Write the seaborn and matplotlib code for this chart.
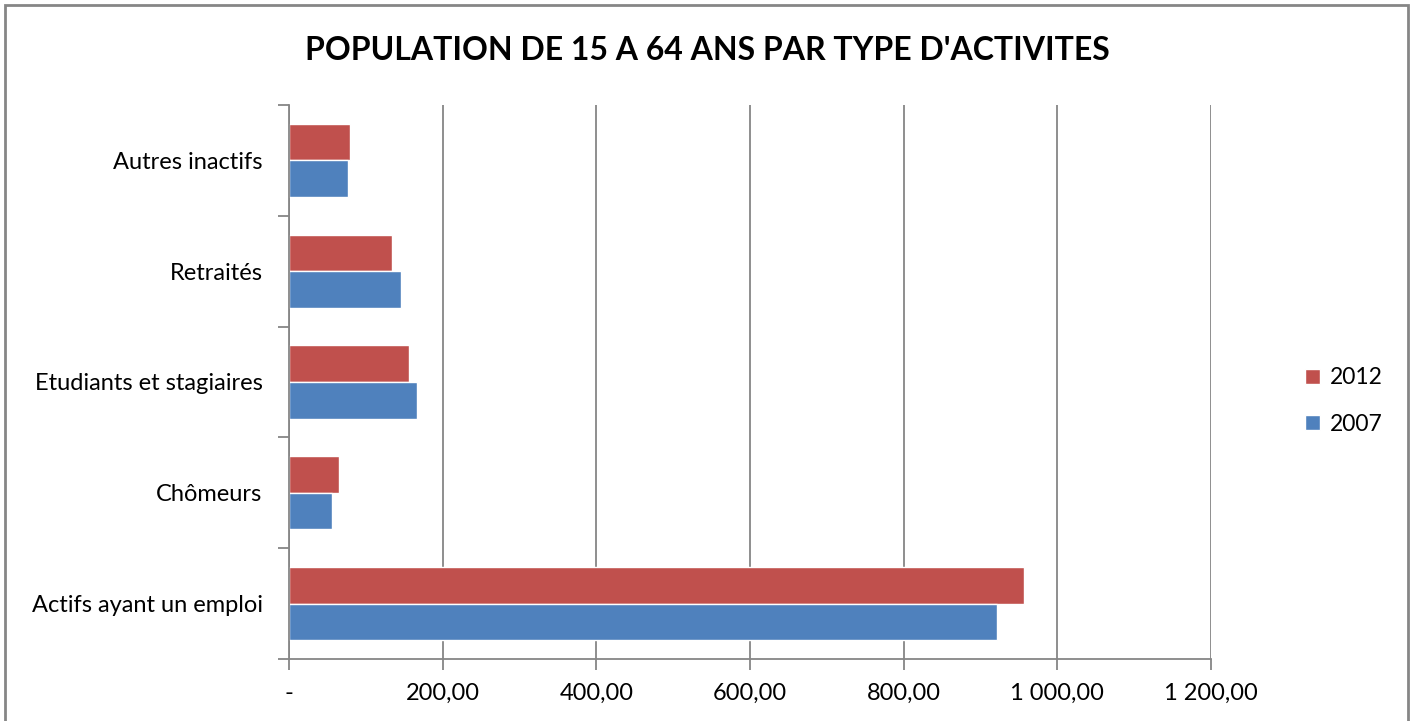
import pandas as pd
import matplotlib.pyplot as plt
import matplotlib.ticker as mticker
from matplotlib.patches import Rectangle, Patch
import seaborn as sns

categories = ["Autres inactifs", "Retraités", "Etudiants et stagiaires", "Chômeurs", "Actifs ayant un emploi"]
vals_2012 = [80, 134, 156, 65, 956]
vals_2007 = [77, 146, 166, 56, 921]
years = ["2012", "2007"]
colors = {"2012": "#C0504D", "2007": "#4F81BD"}

df = pd.DataFrame({
    "cat": categories * 2,
    "val": vals_2012 + vals_2007,
    "year": ["2012"] * 5 + ["2007"] * 5,
})

sns.set_style("white")
plt.rcParams['font.family'] = ['Lato', 'DejaVu Sans']
plt.rcParams['text.color'] = 'black'
plt.rcParams['xtick.labelcolor'] = 'black'
plt.rcParams['ytick.labelcolor'] = 'black'

fig = plt.figure(figsize=(14.16, 7.21), dpi=100)
ax = fig.add_axes([289/1416, 1-659/721, (1211-289)/1416, (659-105)/721])

sns.barplot(data=df, y="cat", x="val", hue="year", hue_order=years, order=categories,
            palette=colors, orient="h", width=0.66, saturation=1, ax=ax, legend=False)

ax.set_xlim(0, 1200)
ax.set_ylim(4.5, -0.5)
ax.set_xticks(range(0, 1201, 200))
ax.xaxis.set_major_formatter(mticker.FuncFormatter(
    lambda v, p: "-" if v == 0 else f"{v:,.2f}".replace(",", " ").replace(".", ",")))
ax.grid(axis="x", color="#868686", linewidth=1.3)
ax.set_axisbelow(True)
for s in ["top", "right"]:
    ax.spines[s].set_visible(False)
for s in ["left", "bottom"]:
    ax.spines[s].set_color("#868686")
    ax.spines[s].set_linewidth(1.3)

ax.set_xlabel("")
ax.set_ylabel("")
ax.tick_params(axis="x", bottom=True, length=8, width=1.3, color="#868686", labelsize=17, pad=9)
ax.tick_params(axis="y", which="major", left=False, length=0, labelsize=17, pad=19)
ax.set_yticks([i - 0.5 for i in range(6)], minor=True)
ax.tick_params(axis="y", which="minor", left=True, length=8, width=1.3, color="#868686")

fig.text(707/1416, 1-50/721, "POPULATION DE 15 A 64 ANS PAR TYPE D'ACTIVITES",
         ha="center", va="center", fontsize=23, fontweight="bold")

handles = [Patch(facecolor=colors[y], label=y) for y in years]
fig.legend(handles=handles, loc="center left", bbox_to_anchor=(1284/1416, 1-401/721),
           frameon=False, fontsize=16.5, handlelength=0.65, handleheight=0.65,
           handletextpad=0.45, labelspacing=1.1)

fig.add_artist(Rectangle((5/1416, -0.01), (1408-5)/1416, 1-5/721+0.01,
                         transform=fig.transFigure, fill=False, edgecolor="#868686", linewidth=2))

fig.savefig("out.png", dpi=100)
